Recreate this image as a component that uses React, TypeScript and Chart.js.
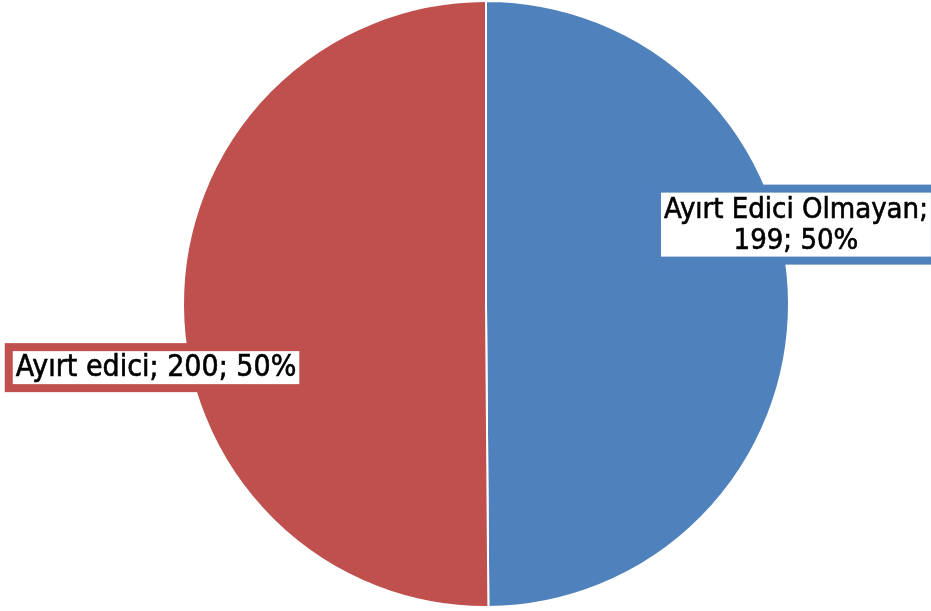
import React, { useEffect, useRef } from "react";
import { Chart, registerables } from "chart.js";

Chart.register(...registerables);

const categories = ["Ayırt Edici Olmayan", "Ayırt edici"];
const values = [199, 200];
const percentLabels = ["50%", "50%"];
const labelLines = [
  ["Ayırt Edici Olmayan;", "199; 50%"],
  ["Ayırt edici; 200; 50%"],
];
const colors = ["#4F81BD", "#C0504D"];

// label box centre offsets, as multiples of the pie radius
const labelOffsets = [
  [1.023, -0.262],
  [-1.089, 0.21],
];
const labelFontSizes = [29, 30];

const FAMILY = '"Liberation Sans Narrow", "DejaVu Sans Condensed", "Liberation Sans", sans-serif';

const labelPlugin = {
  id: "boxLabels",
  afterDatasetsDraw(chart: any) {
    const ctx = chart.ctx;
    const meta = chart.getDatasetMeta(0);
    ctx.save();
    ctx.textAlign = "center";
    ctx.textBaseline = "middle";
    meta.data.forEach((arc: any, i: number) => {
      ctx.font = `${labelFontSizes[i]}px ${FAMILY}`;
      const r = arc.outerRadius;
      const cx = arc.x + labelOffsets[i][0] * r;
      const cy = arc.y + labelOffsets[i][1] * r;
      const lines = labelLines[i];
      const lh = 31;
      const w = Math.max(...lines.map((l) => ctx.measureText(l).width)) + 6;
      const h = lines.length * lh + 2;
      const x0 = cx - w / 2;
      const y0 = cy - h / 2;
      ctx.fillStyle = colors[i];
      ctx.fillRect(x0 - 8, y0 - 8, w + 16, h + 16);
      ctx.fillStyle = "#FFFFFF";
      ctx.fillRect(x0, y0, w, h);
      ctx.fillStyle = "#000000";
      ctx.strokeStyle = "#000000";
      ctx.lineWidth = 0.6;
      lines.forEach((l, j) => {
        const ty = y0 + 1 + lh * j + lh / 2 + 1;
        ctx.fillText(l, cx, ty);
        ctx.strokeText(l, cx, ty);
      });
    });
    ctx.restore();
  },
};

export default function App() {
  const ref = useRef<HTMLCanvasElement | null>(null);
  useEffect(() => {
    if (!ref.current) return;
    const chart = new Chart(ref.current, {
      type: "pie",
      data: {
        labels: categories,
        datasets: [
          {
            data: values,
            backgroundColor: colors,
            borderColor: "#FFFFFF",
            borderWidth: 2,
          },
        ],
      },
      options: {
        responsive: false,
        animation: false,
        layout: { padding: { left: 41, right: 0, top: 0, bottom: 3 } },
        plugins: {
          legend: { display: false },
          tooltip: { enabled: false },
        },
      },
      plugins: [labelPlugin],
    });
    return () => chart.destroy();
  }, []);
  return (
    <div style={{ position: "absolute", left: 0, top: 0, width: 931, height: 611, background: "#fff" }}>
      <canvas ref={ref} width={931} height={611} style={{ display: "block" }} />
    </div>
  );
}
